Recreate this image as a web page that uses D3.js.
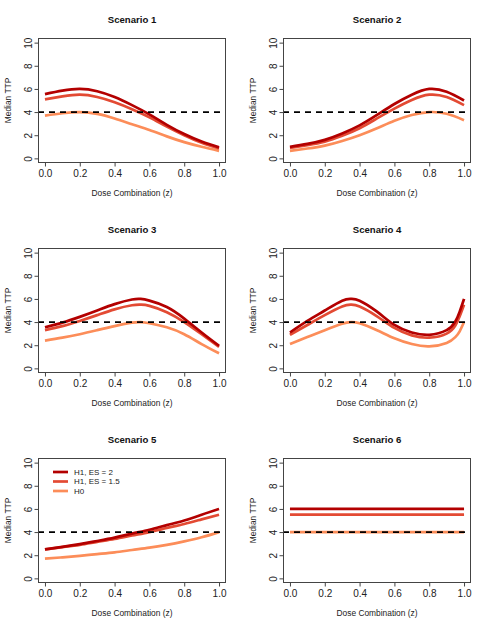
<!DOCTYPE html>
<html>
<head>
<meta charset="utf-8">
<script src="https://cdn.jsdelivr.net/npm/d3@7"></script>
<style>
  html, body { margin: 0; padding: 0; background: #fff; }
  svg { display: block; font-family: "Liberation Sans", Arial, Helvetica, sans-serif; }
</style>
</head>
<body>
<svg id="chart" width="490" height="630"></svg>
<script>
// ---------- data ----------
const scenarioTitles = ["Scenario 1", "Scenario 2", "Scenario 3", "Scenario 4", "Scenario 5", "Scenario 6"];
const seriesNames = ["H1, ES = 2", "H1, ES = 1.5", "H0"];
const seriesColors = ["#b30000", "#e34a33", "#fc8d59"];
const xTicks = [0.0, 0.2, 0.4, 0.6, 0.8, 1.0];
const yTicks = [0, 2, 4, 6, 8, 10];
const referenceTTP = 4;

const doseGrid = [0, 0.1, 0.2, 0.3, 0.4, 0.5, 0.6, 0.7, 0.8, 0.9, 1.0];
const doseGridS3 = [0, 0.1, 0.2, 0.3, 0.4, 0.5, 0.55, 0.6, 0.7, 0.8, 0.9, 1.0];
const doseGridS4 = [0, 0.1, 0.2, 0.3, 0.35, 0.4, 0.5, 0.6, 0.7, 0.8, 0.9, 0.95, 0.975, 1.0];
const doseGridS6 = [0, 1.0];

const s1ES2  = [5.55, 5.85, 6.0, 5.8, 5.3, 4.6, 3.8, 2.9, 2.1, 1.45, 0.95];
const s1ES15 = [5.1, 5.35, 5.5, 5.3, 4.85, 4.25, 3.55, 2.75, 2.0, 1.35, 0.85];
const s1H0   = [3.7, 3.9, 4.0, 3.85, 3.45, 2.95, 2.45, 1.9, 1.4, 1.0, 0.65];

const s2ES2  = [1.0, 1.25, 1.6, 2.15, 2.85, 3.75, 4.7, 5.5, 6.0, 5.75, 5.0];
const s2ES15 = [0.9, 1.15, 1.45, 1.95, 2.6, 3.45, 4.3, 5.05, 5.5, 5.3, 4.6];
const s2H0   = [0.65, 0.85, 1.1, 1.5, 2.0, 2.6, 3.25, 3.75, 4.0, 3.85, 3.3];

const s3ES2  = [3.55, 3.95, 4.45, 5.0, 5.55, 5.95, 6.0, 5.85, 5.3, 4.3, 3.1, 1.95];
const s3ES15 = [3.3, 3.65, 4.1, 4.6, 5.1, 5.45, 5.5, 5.4, 4.85, 4.0, 2.95, 1.85];
const s3H0   = [2.4, 2.65, 2.95, 3.3, 3.65, 3.95, 4.0, 3.9, 3.55, 2.95, 2.1, 1.3];

const s4ES2  = [3.1, 4.1, 5.0, 5.85, 6.0, 5.85, 4.9, 3.75, 3.1, 2.9, 3.3, 4.05, 4.9, 6.0];
const s4ES15 = [2.9, 3.75, 4.6, 5.35, 5.5, 5.35, 4.5, 3.5, 2.85, 2.65, 3.0, 3.7, 4.5, 5.5];
const s4H0   = [2.1, 2.7, 3.3, 3.85, 4.0, 3.9, 3.3, 2.6, 2.1, 1.9, 2.2, 2.7, 3.2, 4.0];

const s5ES2  = [2.5, 2.72, 2.96, 3.23, 3.52, 3.87, 4.2, 4.6, 5.0, 5.5, 6.0];
const s5ES15 = [2.5, 2.7, 2.9, 3.15, 3.4, 3.7, 4.0, 4.35, 4.7, 5.1, 5.5];
const s5H0   = [1.7, 1.82, 1.95, 2.1, 2.25, 2.45, 2.65, 2.9, 3.2, 3.55, 4.0];

const s6ES2  = [6.0, 6.0];
const s6ES15 = [5.5, 5.5];
const s6H0   = [4.0, 4.0];

const scenarioDose = [doseGrid, doseGrid, doseGridS3, doseGridS4, doseGrid, doseGridS6];
const scenarioSeries = [
  [s1ES2, s1ES15, s1H0],
  [s2ES2, s2ES15, s2H0],
  [s3ES2, s3ES15, s3H0],
  [s4ES2, s4ES15, s4H0],
  [s5ES2, s5ES15, s5H0],
  [s6ES2, s6ES15, s6H0]
];

// ---------- layout ----------
const svg = d3.select("#chart");
const panelW = 245, panelH = 210;
const m = { left: 38, right: 19, top: 38, bottom: 47 };
const tickLen = 4;

scenarioTitles.forEach((title, i) => {
  const col = i % 2, row = Math.floor(i / 2);
  const ox = col * panelW, oy = row * panelH;
  const L = ox + m.left, R = ox + panelW - m.right, T = oy + m.top, B = oy + panelH - m.bottom;

  const x = d3.scaleLinear().domain([-0.04, 1.04]).range([L, R]);
  const y = d3.scaleLinear().domain([-0.4, 10.4]).range([B, T]);

  const g = svg.append("g");

  const clipId = "clip" + i;
  svg.append("clipPath").attr("id", clipId)
    .append("rect").attr("x", L).attr("y", T).attr("width", R - L).attr("height", B - T);

  const lineGen = d3.line().curve(d3.curveNatural);
  const doses = scenarioDose[i];
  const plotG = g.append("g").attr("clip-path", `url(#${clipId})`);
  [2, 1, 0].forEach(k => {
    const vals = scenarioSeries[i][k];
    const pts = doses.map((d, j) => [x(d), y(vals[j])]);
    plotG.append("path")
      .attr("d", lineGen(pts))
      .attr("fill", "none")
      .attr("stroke", seriesColors[k])
      .attr("stroke-width", 2.7)
      .attr("stroke-linecap", "butt");
  });

  plotG.append("line")
    .attr("x1", L).attr("x2", R)
    .attr("y1", y(referenceTTP)).attr("y2", y(referenceTTP))
    .attr("stroke", "#000")
    .attr("stroke-width", 1.8)
    .attr("stroke-dasharray", "6,5");

  g.append("rect")
    .attr("x", L + 0.5).attr("y", T + 0.5)
    .attr("width", R - L - 1).attr("height", B - T - 1)
    .attr("fill", "none").attr("stroke", "#444").attr("stroke-width", 1);

  const xa = d3.axisBottom(x).tickValues(xTicks).tickFormat(d3.format(".1f")).tickSize(tickLen).tickPadding(3);
  const xg = g.append("g").attr("transform", `translate(0,${B - 0.5})`).call(xa);
  xg.select(".domain").attr("d", `M${x(0)},0H${x(1)}`).attr("stroke", "#444");
  xg.selectAll(".tick line").attr("stroke", "#444");
  xg.selectAll("text").attr("font-size", 10).attr("fill", "#222").attr("font-family", "Liberation Sans, Arial, sans-serif");

  const ya = d3.axisLeft(y).tickValues(yTicks).tickFormat(d3.format("d")).tickSize(tickLen).tickPadding(0);
  const yg = g.append("g").attr("transform", `translate(${L + 0.5},0)`).call(ya);
  yg.select(".domain").attr("d", `M0,${y(0)}V${y(10)}`).attr("stroke", "#444");
  yg.selectAll(".tick line").attr("stroke", "#444");
  yg.selectAll(".tick text")
    .attr("x", null).attr("dy", null)
    .attr("text-anchor", "middle")
    .attr("transform", "translate(-10,0) rotate(-90)")
    .attr("dy", "0.35em")
    .attr("font-size", 10).attr("fill", "#222")
    .attr("font-family", "Liberation Sans, Arial, sans-serif");

  g.append("text")
    .attr("x", (L + R) / 2).attr("y", oy + 23)
    .attr("text-anchor", "middle")
    .attr("font-size", 9.6).attr("font-weight", "bold").attr("fill", "#111")
    .text(title);

  g.append("text")
    .attr("x", (L + R) / 2).attr("y", oy + 196)
    .attr("text-anchor", "middle")
    .attr("font-size", 8.4).attr("fill", "#222")
    .text("Dose Combination (z)");

  g.append("text")
    .attr("transform", `translate(${ox + 11},${(T + B) / 2}) rotate(-90)`)
    .attr("text-anchor", "middle")
    .attr("font-size", 8.4).attr("fill", "#222")
    .text("Median TTP");

  if (i === 4) {
    const lg = g.append("g");
    seriesNames.forEach((name, k) => {
      const ly = oy + 52 + k * 9.5;
      lg.append("line")
        .attr("x1", ox + 53).attr("x2", ox + 68)
        .attr("y1", ly).attr("y2", ly)
        .attr("stroke", seriesColors[k]).attr("stroke-width", 2.7);
      lg.append("text")
        .attr("x", ox + 74).attr("y", ly).attr("dy", "0.35em")
        .attr("font-size", 8).attr("fill", "#222")
        .text(name);
    });
  }
});
</script>
</body>
</html>
